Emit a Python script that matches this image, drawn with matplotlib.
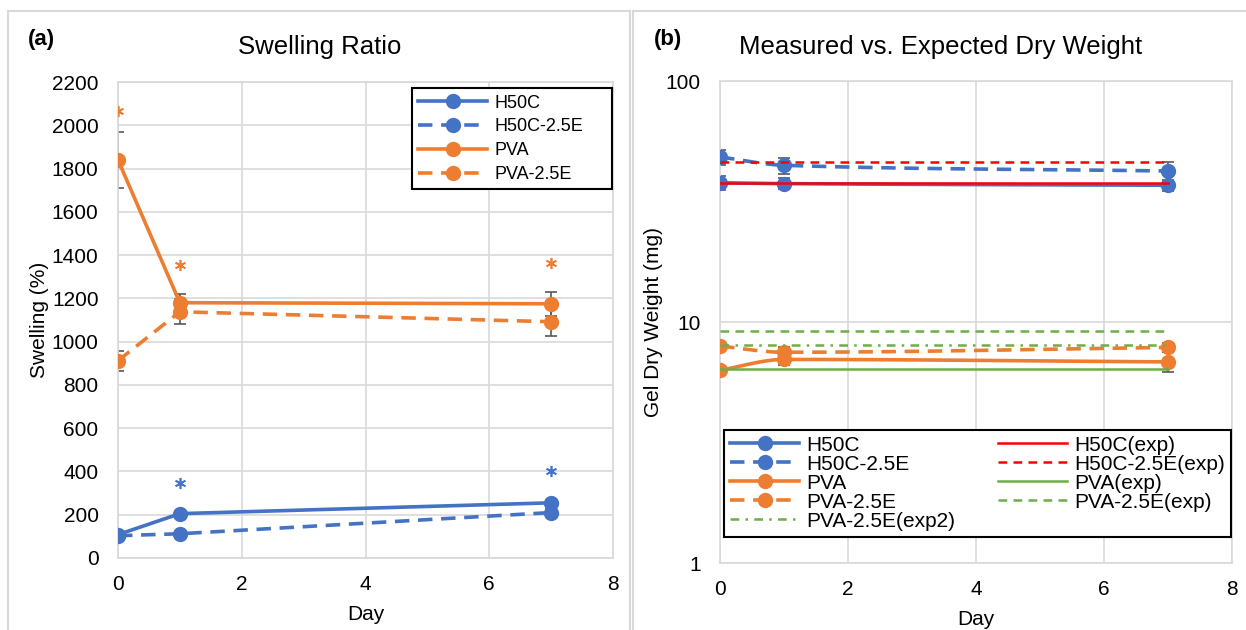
import matplotlib

matplotlib.use("Agg")
import matplotlib.pyplot as plt
import numpy as np
from matplotlib.lines import Line2D
from matplotlib.patches import Rectangle

plt.rcParams["font.family"] = ["Liberation Sans", "DejaVu Sans"]

BLUE = "#4472C4"
ORANGE = "#ED7D31"
RED = "#FF0000"
GREEN = "#70AD47"
GRID = "#D9D9D9"
ERR = "#595959"

days = [0, 1, 7]

# (a) swelling ratio, %
swell_h50c = [108, 205, 255]
swell_h50c_err = [8, 10, 12]
swell_h50c_e = [103, 112, 210]
swell_h50c_e_err = [6, 8, 15]
swell_pva = [1840, 1180, 1175]
swell_pva_err = [128, 40, 55]
swell_pva_e = [912, 1138, 1092]
swell_pva_e_err = [47, 58, 68]

star_orange_days = [0, 1, 7]
star_orange_y = [2065, 1352, 1362]
star_blue_days = [1, 7]
star_blue_y = [346, 400]

# (b) gel dry weight, mg
dry_h50c = [37.9, 37.6, 37.0]
dry_h50c_err = [2.5, 2.0, 1.9]
dry_h50c_e = [48.5, 44.8, 42.4]
dry_h50c_e_err = [3.5, 3.4, 3.8]
dry_pva = [6.32, 7.0, 6.84]
dry_pva_err = [0.25, 0.35, 0.65]
dry_pva_e = [7.95, 7.5, 7.85]
dry_pva_e_err = [0.25, 0.4, 0.35]

exp_days = [0, 7]
exp_h50c = [37.9, 37.9]
exp_h50c_e = [46.2, 46.2]
exp_pva = [6.36, 6.36]
exp_pva_e = [9.18, 9.18]
exp_pva_e2 = [8.03, 8.03]


def smooth_line(x, y, log=False, n=60):
    # monotone cubic Hermite through the points, drawn in log space if needed
    x = np.asarray(x, float)
    y = np.asarray(y, float)
    yy = np.log10(y) if log else y
    h = np.diff(x)
    d = np.diff(yy) / h
    m = np.zeros_like(yy)
    m[0], m[-1] = d[0], d[-1]
    for i in range(1, len(x) - 1):
        if d[i - 1] * d[i] > 0:
            w1 = 2 * h[i] + h[i - 1]
            w2 = h[i] + 2 * h[i - 1]
            m[i] = (w1 + w2) / (w1 / d[i - 1] + w2 / d[i])
    xs, ys = [], []
    for i in range(len(x) - 1):
        t = np.linspace(0, 1, n)
        h00 = 2 * t**3 - 3 * t**2 + 1
        h10 = t**3 - 2 * t**2 + t
        h01 = -2 * t**3 + 3 * t**2
        h11 = t**3 - t**2
        seg = (
            h00 * yy[i]
            + h10 * h[i] * m[i]
            + h01 * yy[i + 1]
            + h11 * h[i] * m[i + 1]
        )
        xs.append(x[i] + t * h[i])
        ys.append(seg)
    xs = np.concatenate(xs)
    ys = np.concatenate(ys)
    return xs, (10**ys if log else ys)


def style_axis(axis):
    axis.grid(True, color=GRID, linewidth=1.2)
    axis.set_axisbelow(True)
    for spine in axis.spines.values():
        spine.set_color(GRID)
        spine.set_linewidth(1.2)
    axis.tick_params(length=0, labelsize=15, pad=12)
    axis.tick_params(axis="y", pad=14)


def draw_stars(axis, xs, ys, color):
    axis.plot(xs, ys, linestyle="none", marker=(6, 2, 0),
              markersize=8, markeredgewidth=1.2, color=color, zorder=5)


figure = plt.figure(figsize=(12.46, 6.30), dpi=100)

# panel frames
figure.add_artist(
    Rectangle((8 / 1246, -0.05), 622 / 1246, 1.05 - 11 / 630,
              transform=figure.transFigure, fill=False,
              edgecolor=GRID, linewidth=1.5)
)
figure.add_artist(
    Rectangle((633 / 1246, -0.05), 0.6, 1.05 - 11 / 630,
              transform=figure.transFigure, fill=False,
              edgecolor=GRID, linewidth=1.5)
)

# ---- (a) swelling ratio ----
ax_a = figure.add_axes([0.0947, 0.1143, 0.3973, 0.7555])
series_a = [
    (swell_h50c, swell_h50c_err, BLUE, "-", "H50C"),
    (swell_h50c_e, swell_h50c_e_err, BLUE, (0, (4, 2.4)), "H50C-2.5E"),
    (swell_pva, swell_pva_err, ORANGE, "-", "PVA"),
    (swell_pva_e, swell_pva_e_err, ORANGE, (0, (4, 2.4)), "PVA-2.5E"),
]
for values, errors, color, ls, label in series_a:
    ax_a.errorbar(
        days, values, yerr=errors, fmt="none",
        ecolor=ERR, elinewidth=1.2, capsize=4, capthick=1.2, zorder=2,
    )
    ax_a.plot(
        days, values, color=color, linestyle=ls, linewidth=2.6,
        marker="o", markersize=10, label=label, zorder=3,
    )
draw_stars(ax_a, star_orange_days, star_orange_y, ORANGE)
draw_stars(ax_a, star_blue_days, star_blue_y, BLUE)

ax_a.set_xlim(0, 8)
ax_a.set_ylim(0, 2200)
ax_a.set_xticks(np.arange(0, 9, 2))
ax_a.set_yticks(np.arange(0, 2201, 200))
style_axis(ax_a)
ax_a.set_xlabel("Day", fontsize=15, labelpad=8)
ax_a.set_ylabel("Swelling (%)", fontsize=15, labelpad=2)
leg_a = ax_a.legend(
    loc="upper left", bbox_to_anchor=(0.594, 0.987, 0.404, 0.0),
    mode="expand", fontsize=13, numpoints=1, handlelength=3.8,
    labelspacing=0.38, handletextpad=0.4, borderpad=0.35,
    fancybox=False, framealpha=1, edgecolor="black", borderaxespad=0.0,
)
leg_a.get_frame().set_linewidth(1.5)

# ---- (b) measured vs expected dry weight ----
ax_b = figure.add_axes([0.5779, 0.1063, 0.4109, 0.7647])
series_b = [
    (dry_h50c, dry_h50c_err, BLUE, "-", "H50C"),
    (dry_h50c_e, dry_h50c_e_err, BLUE, (0, (4, 2.4)), "H50C-2.5E"),
    (dry_pva, dry_pva_err, ORANGE, "-", "PVA"),
    (dry_pva_e, dry_pva_e_err, ORANGE, (0, (4, 2.4)), "PVA-2.5E"),
]
handles = []
for values, errors, color, ls, label in series_b:
    ax_b.errorbar(
        days, values, yerr=errors, fmt="none",
        ecolor=ERR, elinewidth=1.2, capsize=4, capthick=1.2, zorder=2,
    )
    sx, sy = smooth_line(days, values, log=True)
    ax_b.plot(sx, sy, color=color, linestyle=ls, linewidth=2.6, zorder=3)
    ax_b.plot(days, values, linestyle="none", marker="o", markersize=10,
              color=color, zorder=4)
    handles.append(
        Line2D([], [], color=color, linestyle=ls, linewidth=2.6,
               marker="o", markersize=10, label=label)
    )

expected = [
    (exp_h50c, RED, "-", "H50C(exp)"),
    (exp_h50c_e, RED, (0, (3.5, 2.5)), "H50C-2.5E(exp)"),
    (exp_pva, GREEN, "-", "PVA(exp)"),
    (exp_pva_e, GREEN, (0, (3.5, 2.5)), "PVA-2.5E(exp)"),
    (exp_pva_e2, GREEN, (0, (3.5, 2.5, 1, 2.5)), "PVA-2.5E(exp2)"),
]
exp_handles = []
for values, color, ls, label in expected:
    line, = ax_b.plot(exp_days, values, color=color, linestyle=ls,
                      linewidth=1.8, label=label, zorder=5)
    exp_handles.append(line)

ax_b.set_yscale("log")
ax_b.set_xlim(0, 8)
ax_b.set_ylim(1, 100)
ax_b.set_xticks(np.arange(0, 9, 2))
ax_b.set_yticks([1, 10, 100])
ax_b.set_yticklabels(["1", "10", "100"])
ax_b.yaxis.set_minor_locator(matplotlib.ticker.NullLocator())
style_axis(ax_b)
ax_b.set_xlabel("Day", fontsize=15, labelpad=8)
ax_b.set_ylabel("Gel Dry Weight (mg)", fontsize=15, labelpad=2)

# column-major order: left column measured, right column expected
order = [
    handles[0], handles[1], handles[2], handles[3], exp_handles[4],
    exp_handles[0], exp_handles[1], exp_handles[2], exp_handles[3],
]
leg_b = ax_b.legend(
    handles=order, loc="lower left",
    bbox_to_anchor=(0.008, 0.054, 0.99, 0.0), mode="expand",
    ncol=2, fontsize=15, numpoints=1, handlelength=3.3,
    labelspacing=0.0, handletextpad=0.35, columnspacing=1.0,
    borderpad=0.3, fancybox=False, framealpha=1, edgecolor="black",
    borderaxespad=0.0,
)
leg_b.get_frame().set_linewidth(1.5)

# chart titles and panel letters
figure.text(320 / 1246, 1 - 47 / 630, "Swelling Ratio", fontsize=18.5,
            ha="center", va="center")
figure.text(941 / 1246, 1 - 47 / 630, "Measured vs. Expected Dry Weight",
            fontsize=18.5, ha="center", va="center")
figure.text(28 / 1246, 1 - 39 / 630, "(a)", fontsize=16,
            fontweight="bold", ha="left", va="center")
figure.text(654 / 1246, 1 - 39 / 630, "(b)", fontsize=16,
            fontweight="bold", ha="left", va="center")

figure.savefig("out.png", dpi=100)
